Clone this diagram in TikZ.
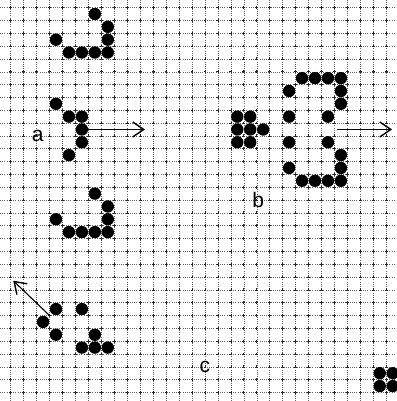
\documentclass[tikz,border=0pt]{standalone}
\usepackage{fontspec}
\setmainfont{Liberation Sans}
\usetikzlibrary{arrows.meta}

\begin{document}
\begin{tikzpicture}[
  x=12.95pt, y=-12.83pt,
  font=\fontsize{21}{24}\selectfont,
  gridline/.style={black!60, line width=0.45pt, dash pattern=on 0.8pt off 1.4pt},
  gridmark/.style={black!85, line width=0.6pt},
  live/.style={circle, fill=black, inner sep=0pt, minimum size=12.4pt},
  vec/.style={-{Straight Barb[length=11pt,width=15pt,line width=1.4pt]}, line width=1.1pt},
  tag/.style={inner sep=1pt}
]
\useasboundingbox (-1.324,-1.091) rectangle (29.255,30.164);
\foreach \k in {-0.5,0.5,...,28.6} \draw[gridline] (\k,-1.091) -- (\k,30.164);
\foreach \k in {-0.5,0.5,...,29.6} \draw[gridline] (-1.324,\k) -- (29.255,\k);
\foreach \i in {-0.5,0.5,...,28.6}
  \foreach \j in {-0.5,0.5,...,29.6}
    \draw[gridmark] (\i,\j) +(-1.4pt,0) -- +(1.4pt,0) +(0,-1.4pt) -- +(0,1.4pt);
\foreach \x/\y [count=\n] in {6/0,7/1,3/2,7/2,4/3,5/3,6/3,7/3}
  \node[live] (aa\n) at (\x,\y) {};
\foreach \x/\y [count=\n] in {3/7,4/8,5/8,5/9,5/10,4/11}
  \node[live] (ab\n) at (\x,\y) {};
\foreach \x/\y [count=\n] in {6/14,7/15,3/16,7/16,4/17,5/17,6/17,7/17}
  \node[live] (ac\n) at (\x,\y) {};
\foreach \x/\y [count=\n] in {17/8,18/8,17/9,18/9,19/9,17/10,18/10}
  \node[live] (bl\n) at (\x,\y) {};
\foreach \x/\y [count=\n] in {22/5,23/5,24/5,25/5,21/6,25/6,25/7,21/8,24/8,
    21/10,24/10,25/11,21/12,25/12,22/13,23/13,24/13,25/13}
  \node[live] (br\n) at (\x,\y) {};
\foreach \x/\y [count=\n] in {3/23,5/23,2/24,3/25,6/25,5/26,6/26,7/26}
  \node[live] (cg\n) at (\x,\y) {};
\foreach \x/\y [count=\n] in {28/28,29/28,28/29,29/29}
  \node[live] (cb\n) at (\x,\y) {};
\node[tag] (la) at (1.59,9.5) {a};
\node[tag] (lb) at (18.62,14.5) {b};
\node[tag] (lc) at (14.5,27.5) {c};
\coordinate (aTip) at (9.87,9);
\coordinate (bTail) at (24.7,9);
\coordinate (bTip) at (28.95,9);
\coordinate (cTail) at (2.5,23.5);
\coordinate (cTip) at (-0.3,20.79);
\draw[vec] (ab4.east) -- (aTip);
\draw[vec] (bTail) -- (bTip);
\draw[vec] (cTail) -- (cTip);
\end{tikzpicture}
\end{document}
